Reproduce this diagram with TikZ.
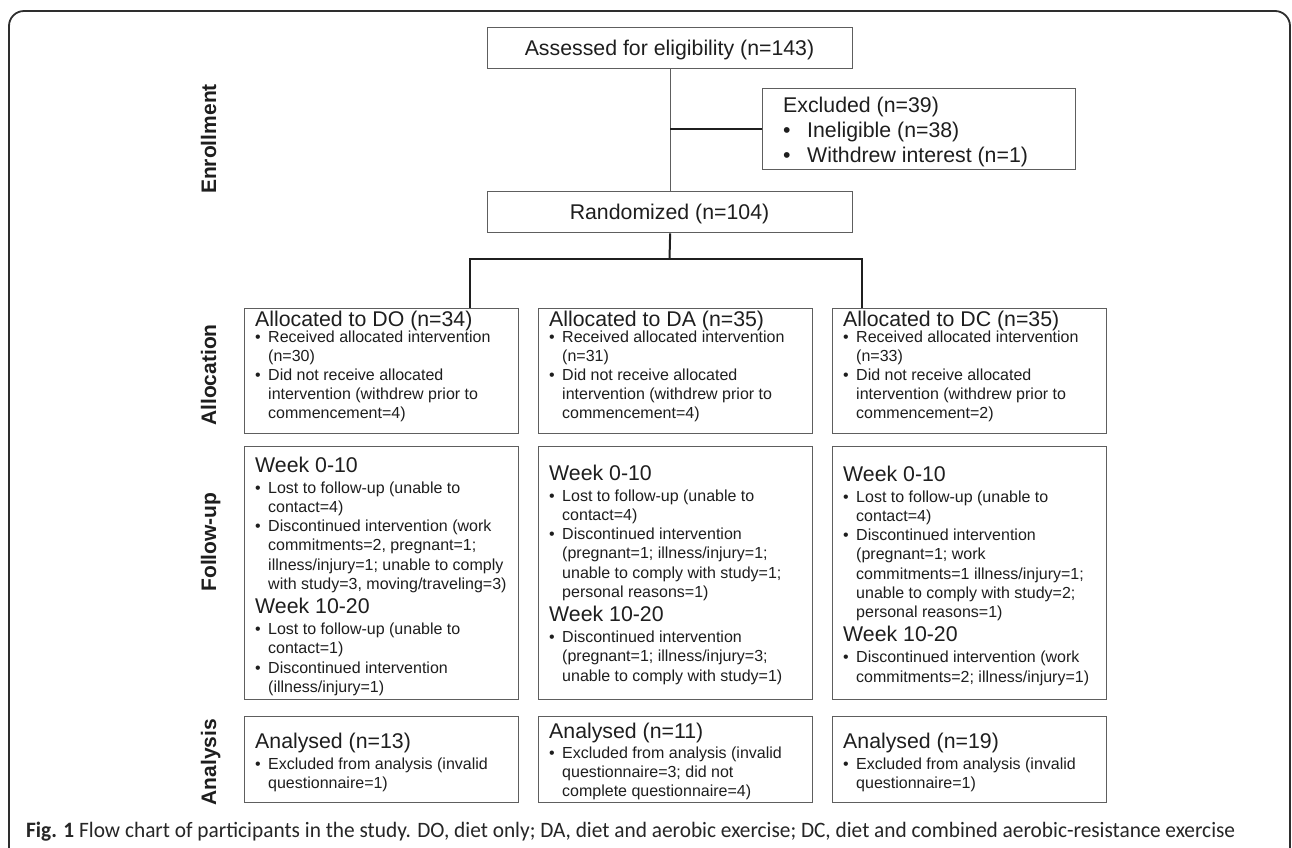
\documentclass[tikz,border=0pt]{standalone}
\usepackage{fontspec}
\setmainfont{Liberation Sans}
\newfontfamily\capfont{Carlito}
\usepackage{graphicx}
\definecolor{boxgray}{HTML}{5E5E5E}
\definecolor{txt}{HTML}{1E1E1E}
\definecolor{framec}{HTML}{2E2E2E}
\newcounter{lnc}
\newcommand\ahead[3]{\stepcounter{lnc}\node[hd] (t\arabic{lnc}) at (#1+11,#2) {#3};}
\newcommand\chead[3]{\stepcounter{lnc}\node[hd] (t\arabic{lnc}) at (#1+11,#2) {#3};}
\newcommand\bitem[3]{\stepcounter{lnc}\node[bt] (p\arabic{lnc}) at (#1+11,#2) {\textbullet};\node[bt] (t\arabic{lnc}) at (#1+24,#2) {#3};}
\newcommand\bcont[3]{\stepcounter{lnc}\node[bt] (t\arabic{lnc}) at (#1+24,#2) {#3};}
\begin{document}
\begin{tikzpicture}[x=1pt,y=-1pt,
  box/.style={draw=boxgray, line width=1.3pt, inner sep=0pt, anchor=north west},
  hd/.style={anchor=base west, inner sep=0pt, font=\fontsize{21.3}{24}\selectfont, text=txt},
  bt/.style={anchor=base west, inner sep=0pt, font=\fontsize{16}{19}\selectfont, text=txt},
  lab/.style={rotate=90, anchor=base, inner sep=0pt, font=\bfseries\fontsize{21}{24}\selectfont, text=txt},
  conn/.style={draw=black!88, line width=2pt},
  thinconn/.style={draw=boxgray, line width=1.3pt},
  frame/.style={draw=framec, line width=1.8pt, rounded corners=15pt}
]
\useasboundingbox (0,0) rectangle (1292,847);
\clip (0,0) rectangle (1292,847);
\fill[white] (0,0) rectangle (1292,847);
\draw[frame] (9,11) rectangle (1290,900);

% stage labels
\node[lab] (lenr) at (216,139) {Enrollment};
\node[lab] (lall) at (216,375) {Allocation};
\node[lab] (lfol) at (216,542) {Follow-up};
\node[lab] (lana) at (216,762) {Analysis};

% enrollment
\node[box, minimum width=365pt, minimum height=41pt] (as) at (487,27) {};
\node[hd, anchor=base] (ast) at (669.5,55) {Assessed for eligibility (n=143)};
\node[box, minimum width=313pt, minimum height=81pt] (ex) at (762,88) {};
\node[hd] (ext1) at (783,112) {Excluded (n=39)};
\node[hd] (exb1) at (783,137) {\textbullet};
\node[hd] (ext2) at (807,137) {Ineligible (n=38)};
\node[hd] (exb2) at (783,162.5) {\textbullet};
\node[hd] (ext3) at (807,162.5) {Withdrew interest (n=1)};
\node[box, minimum width=365pt, minimum height=41pt] (ra) at (487,191) {};
\node[hd, anchor=base] (rat) at (669.5,219) {Randomized (n=104)};

% allocation boxes
\node[box, minimum width=274pt, minimum height=125pt] (doA) at (244,308) {};
\node[box, minimum width=274pt, minimum height=125pt] (daA) at (538,308) {};
\node[box, minimum width=274pt, minimum height=125pt] (dcA) at (832,308) {};
% follow-up boxes
\node[box, minimum width=274pt, minimum height=253pt] (doF) at (244,446) {};
\node[box, minimum width=274pt, minimum height=253pt] (daF) at (538,446) {};
\node[box, minimum width=274pt, minimum height=253pt] (dcF) at (832,446) {};
% analysis boxes
\node[box, minimum width=274pt, minimum height=86pt] (doN) at (244,716) {};
\node[box, minimum width=274pt, minimum height=86pt] (daN) at (538,716) {};
\node[box, minimum width=274pt, minimum height=86pt] (dcN) at (832,716) {};

% connectors
\draw[thinconn] (as.south) -- (ra.north);
\draw[conn] (ex.west) -- (ex.west -| as.south);
\coordinate (jm) at (669.5,259);
\coordinate (jl) at (470,259);
\coordinate (jr) at (862,259);
\draw[conn] (ra.south) -- (jm);
\draw[conn] (jl |- doA.north) -- (jl) -- (jr) -- (jr |- dcA.north);

% allocation texts
\ahead{244}{326}{Allocated to DO (n=34)}
\bitem{244}{342.5}{Received allocated intervention}
\bcont{244}{361.5}{(n=30)}
\bitem{244}{380.5}{Did not receive allocated}
\bcont{244}{399.5}{intervention (withdrew prior to}
\bcont{244}{418.5}{commencement=4)}

\ahead{538}{326}{Allocated to DA (n=35)}
\bitem{538}{342.5}{Received allocated intervention}
\bcont{538}{361.5}{(n=31)}
\bitem{538}{380.5}{Did not receive allocated}
\bcont{538}{399.5}{intervention (withdrew prior to}
\bcont{538}{418.5}{commencement=4)}

\ahead{832}{326}{Allocated to DC (n=35)}
\bitem{832}{342.5}{Received allocated intervention}
\bcont{832}{361.5}{(n=33)}
\bitem{832}{380.5}{Did not receive allocated}
\bcont{832}{399.5}{intervention (withdrew prior to}
\bcont{832}{418.5}{commencement=2)}

% follow-up texts DO
\chead{244}{472}{Week 0-10}
\bitem{244}{493}{Lost to follow-up (unable to}
\bcont{244}{512.3}{contact=4)}
\bitem{244}{531.6}{Discontinued intervention (work}
\bcont{244}{550.9}{commitments=2, pregnant=1;}
\bcont{244}{570.2}{illness/injury=1; unable to comply}
\bcont{244}{589.5}{with study=3, moving/traveling=3)}
\chead{244}{613.5}{Week 10-20}
\bitem{244}{634.5}{Lost to follow-up (unable to}
\bcont{244}{653.8}{contact=1)}
\bitem{244}{673.1}{Discontinued intervention}
\bcont{244}{692.4}{(illness/injury=1)}

% follow-up texts DA
\chead{538}{480}{Week 0-10}
\bitem{538}{501}{Lost to follow-up (unable to}
\bcont{538}{520.3}{contact=4)}
\bitem{538}{539.6}{Discontinued intervention}
\bcont{538}{558.9}{(pregnant=1; illness/injury=1;}
\bcont{538}{578.2}{unable to comply with study=1;}
\bcont{538}{597.5}{personal reasons=1)}
\chead{538}{621.5}{Week 10-20}
\bitem{538}{642.5}{Discontinued intervention}
\bcont{538}{661.8}{(pregnant=1; illness/injury=3;}
\bcont{538}{681.1}{unable to comply with study=1)}

% follow-up texts DC
\chead{832}{481}{Week 0-10}
\bitem{832}{502}{Lost to follow-up (unable to}
\bcont{832}{521.3}{contact=4)}
\bitem{832}{540.6}{Discontinued intervention}
\bcont{832}{559.9}{(pregnant=1; work}
\bcont{832}{579.2}{commitments=1 illness/injury=1;}
\bcont{832}{598.5}{unable to comply with study=2;}
\bcont{832}{617.8}{personal reasons=1)}
\chead{832}{641.8}{Week 10-20}
\bitem{832}{662.8}{Discontinued intervention (work}
\bcont{832}{682.1}{commitments=2; illness/injury=1)}

% analysis texts
\chead{244}{748}{Analysed (n=13)}
\bitem{244}{769}{Excluded from analysis (invalid}
\bcont{244}{788.3}{questionnaire=1)}

\chead{538}{738}{Analysed (n=11)}
\bitem{538}{758}{Excluded from analysis (invalid}
\bcont{538}{777.3}{questionnaire=3; did not}
\bcont{538}{796.6}{complete questionnaire=4)}

\chead{832}{748}{Analysed (n=19)}
\bitem{832}{769}{Excluded from analysis (invalid}
\bcont{832}{788.3}{questionnaire=1)}

% caption
\node[anchor=base west, inner sep=0pt, text=black!85, font=\capfont\fontsize{22}{26}\selectfont] (cap) at (26,837)
  {\resizebox{1209pt}{\height}{\textbf{Fig. 1} Flow chart of participants in the study. DO, diet only; DA, diet and aerobic exercise; DC, diet and combined aerobic-resistance exercise}};
\end{tikzpicture}
\end{document}
